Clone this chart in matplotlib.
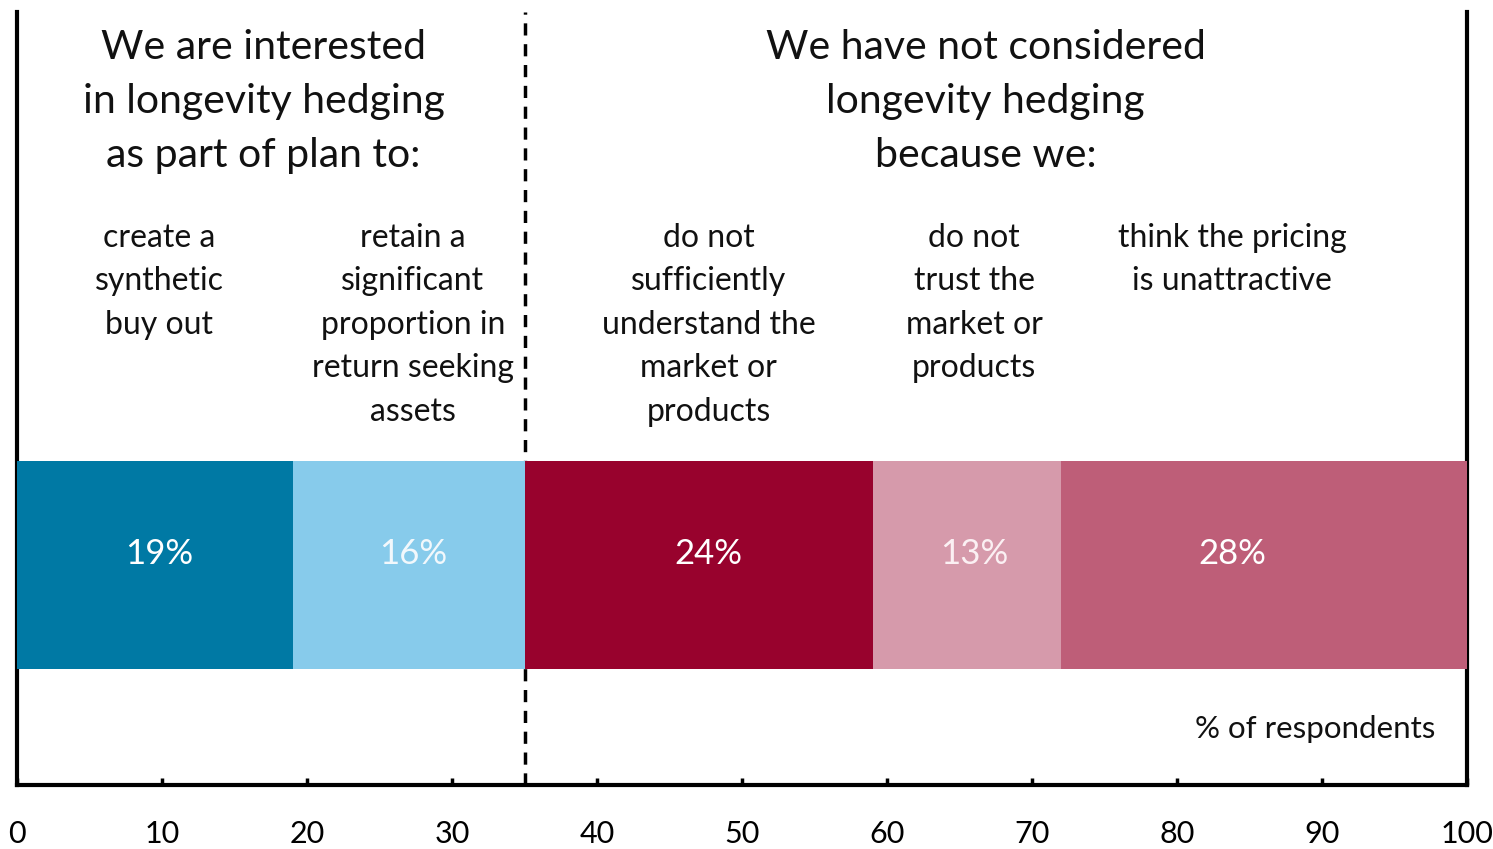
import matplotlib.pyplot as plt

# segment data (percent of respondents)
groups = ['create a\nsynthetic\nbuy out',
          'retain a\nsignificant\nproportion in\nreturn seeking\nassets',
          'do not\nsufficiently\nunderstand the\nmarket or\nproducts',
          'do not\ntrust the\nmarket or\nproducts',
          'think the pricing\nis unattractive']
shares = [19, 16, 24, 13, 28]
colors = ['#0079A4', '#87CBEB', '#98022D', '#D69AAB', '#BE5E78']
pct_colors = ['white', '#F2F8FC', 'white', '#FBF0F3', 'white']

headers = ['We are interested\nin longevity hedging\nas part of plan to:',
           'We have not considered\nlongevity hedging\nbecause we:']

plt.rcParams['font.family'] = ['Lato', 'DejaVu Sans']

fig = plt.figure(figsize=(14.93, 8.49), dpi=100)
ax = fig.add_axes([0.0114, 0.0754, 0.9712, 0.9106])

# stacked bar
left = 0
label_x = [9.8, 27.3, 47.7, 66.0, 83.8]
for i, (s, c) in enumerate(zip(shares, colors)):
    ax.barh(0.2846, s, left=left, height=0.269, color=c, zorder=3)
    ax.text(label_x[i], 0.303, f'{s}%', color=pct_colors[i], ha='center', va='center_baseline',
            fontsize=25, zorder=4)
    ax.text(label_x[i], 0.727, groups[i], ha='center', va='top', fontsize=23,
            linespacing=1.56, color='#111111')
    left += s

# divider between the two groups
split = shares[0] + shares[1]
ax.axvline(split, color='black', lw=2.5, ls=(0, (3.5, 2.5)), zorder=2)

ax.text(17, 0.978, headers[0], ha='center', va='top', fontsize=29.5, linespacing=1.57, color='#111111')
ax.text(66.8, 0.978, headers[1], ha='center', va='top', fontsize=29.5, linespacing=1.57, color='#111111')
ax.text(97.8, 0.073, '% of respondents', ha='right', va='center', fontsize=22.5, color='#111111')

ax.set_xlim(0, 100)
ax.set_ylim(0, 1)
ax.set_xticks(range(0, 101, 10))
ax.set_yticks([])
ax.tick_params(axis='x', direction='in', length=5, width=2.5, labelsize=22, pad=25)
ax.spines['top'].set_visible(False)
for sp in ['left', 'right', 'bottom']:
    ax.spines[sp].set_linewidth(3)

plt.savefig('out.png', dpi=100)
